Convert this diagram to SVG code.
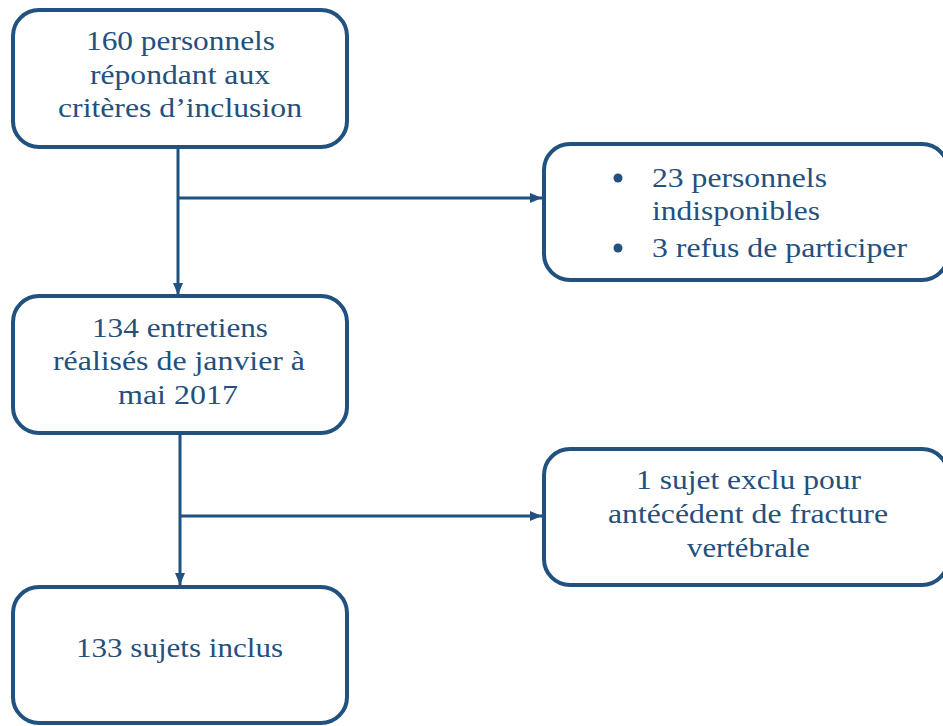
<svg xmlns="http://www.w3.org/2000/svg" width="943" height="726" viewBox="0 0 943 726" font-family="serif">
<defs>
<marker id="ah" markerWidth="12" markerHeight="10" refX="12" refY="5" orient="auto" markerUnits="userSpaceOnUse">
<path d="M0,0 L12,5 L0,10 Z" fill="#21517F"/>
</marker>
</defs>
<g id="connectors" stroke="#21517F" stroke-width="3" fill="none">
<line x1="178" y1="147" x2="178" y2="295" marker-end="url(#ah)"/>
<line x1="178" y1="198" x2="542" y2="198" marker-end="url(#ah)"/>
<line x1="180" y1="433" x2="180" y2="585" marker-end="url(#ah)"/>
<line x1="180" y1="516" x2="542" y2="516" marker-end="url(#ah)"/>
</g>
<g id="n1">
<rect x="13" y="10" width="334" height="137" rx="26" fill="#fff" stroke="#21517F" stroke-width="4"/>
<text font-family="serif" font-size="28" fill="#23507D" x="86" y="50" textLength="189" lengthAdjust="spacingAndGlyphs">160 personnels</text>
<text font-family="serif" font-size="28" fill="#23507D" x="90" y="84" textLength="180" lengthAdjust="spacingAndGlyphs">répondant aux</text>
<text font-family="serif" font-size="28" fill="#23507D" x="58" y="117" textLength="244" lengthAdjust="spacingAndGlyphs">critères d’inclusion</text>
</g>
<g id="n2">
<rect x="544" y="144" width="404" height="136" rx="26" fill="#fff" stroke="#21517F" stroke-width="4"/>
<circle cx="618" cy="178" r="4.5" fill="#23507D"/>
<circle cx="618" cy="248" r="4.5" fill="#23507D"/>
<text font-family="serif" font-size="28" fill="#23507D" x="652" y="187" textLength="175" lengthAdjust="spacingAndGlyphs">23 personnels</text>
<text font-family="serif" font-size="28" fill="#23507D" x="652" y="220" textLength="168" lengthAdjust="spacingAndGlyphs">indisponibles</text>
<text font-family="serif" font-size="28" fill="#23507D" x="652" y="257" textLength="255" lengthAdjust="spacingAndGlyphs">3 refus de participer</text>
</g>
<g id="n3">
<rect x="13" y="296" width="334" height="137" rx="26" fill="#fff" stroke="#21517F" stroke-width="4"/>
<text font-family="serif" font-size="28" fill="#23507D" x="92" y="337" textLength="176" lengthAdjust="spacingAndGlyphs">134 entretiens</text>
<text font-family="serif" font-size="28" fill="#23507D" x="53" y="370" textLength="252" lengthAdjust="spacingAndGlyphs">réalisés de janvier à</text>
<text font-family="serif" font-size="28" fill="#23507D" x="118" y="404" textLength="120" lengthAdjust="spacingAndGlyphs">mai 2017</text>
</g>
<g id="n4">
<rect x="544" y="449" width="404" height="136" rx="26" fill="#fff" stroke="#21517F" stroke-width="4"/>
<text font-family="serif" font-size="28" fill="#23507D" x="636" y="489" textLength="225" lengthAdjust="spacingAndGlyphs">1 sujet exclu pour</text>
<text font-family="serif" font-size="28" fill="#23507D" x="608" y="523" textLength="280" lengthAdjust="spacingAndGlyphs">antécédent de fracture</text>
<text font-family="serif" font-size="28" fill="#23507D" x="687" y="557" textLength="123" lengthAdjust="spacingAndGlyphs">vertébrale</text>
</g>
<g id="n5">
<rect x="13" y="587" width="334" height="136" rx="26" fill="#fff" stroke="#21517F" stroke-width="4"/>
<text font-family="serif" font-size="28" fill="#23507D" x="76" y="657" textLength="207" lengthAdjust="spacingAndGlyphs">133 sujets inclus</text>
</g>
</svg>
